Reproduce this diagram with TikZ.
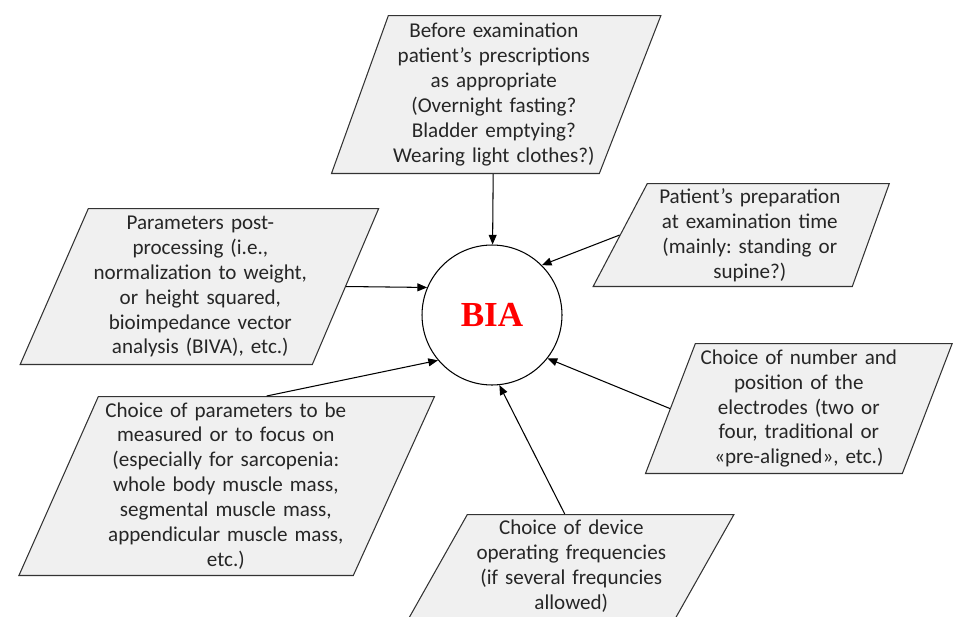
\documentclass[tikz,border=0pt]{standalone}
\usepackage{fontspec}
\setmainfont{Carlito}
\newfontfamily\biafont{Liberation Serif}
\usepackage{tikz}
\usetikzlibrary{positioning,arrows.meta,shapes.geometric,calc}
\definecolor{boxgray}{RGB}{240,240,240}
\definecolor{biared}{RGB}{255,0,0}
\frenchspacing

\begin{document}
\begin{tikzpicture}[
    x=0.02cm, y=-0.02cm,
    >={Triangle[length=5.5pt,width=4.5pt]},
    every node/.style={font=\fontsize{12}{14.2}\selectfont},
    factor/.style={
        trapezium, trapezium stretches=true, draw=black!80, fill=boxgray,
        line width=0.6pt, inner xsep=0pt, inner ysep=0pt, align=center,
        text=black!85, anchor=top left corner
    },
    link/.style={->, line width=0.6pt}
]
\clip (0,0) rectangle (957,616);

\node[circle, draw, line width=0.6pt, minimum size=2.8cm, text=biared,
    font=\biafont\fontsize{20}{24}\selectfont\bfseries] (BIA) at (492,315) {BIA};

\node[factor, text width=4.22cm, minimum height=3.16cm,
    trapezium left angle=68.3, trapezium right angle=113.3] (F1) at (388,15) {
    Before examination\\
    patient’s prescriptions\\
    as appropriate\\
    (Overnight fasting?\\
    Bladder emptying?\\
    Wearing light clothes?)
};

\node[factor, text width=4.10cm, minimum height=2.06cm,
    trapezium left angle=59.8, trapezium right angle=111.7] (F2) at (647,183) {
    Patient’s preparation\\
    at examination time\\
    (mainly: standing or\\
    supine?)
};

\node[factor, text width=4.48cm, minimum height=3.12cm,
    trapezium left angle=64.3, trapezium right angle=115.1] (F3) at (88,208) {
    Parameters post-\\
    processing (i.e.,\\
    normalization to weight,\\
    or height squared,\\
    bioimpedance vector\\
    analysis (BIVA), etc.)
};

\node[factor, text width=4.14cm, minimum height=2.6cm,
    trapezium left angle=67.1, trapezium right angle=112.9] (F4) at (695,343) {
    Choice of number and\\
    position of the\\
    electrodes (two or\\
    four, traditional or\\
    «pre-aligned», etc.)
};

\node[factor, text width=5.10cm, minimum height=3.58cm,
    trapezium left angle=64.6, trapezium right angle=115.9] (F5) at (98,396) {
    Choice of parameters to be\\
    measured or to focus on\\
    (especially for sarcopenia:\\
    whole body muscle mass,\\
    segmental muscle mass,\\
    appendicular muscle mass,\\
    etc.)
};

\node[factor, text width=4.16cm, minimum height=2.08cm,
    trapezium left angle=57.6, trapezium right angle=122.4] (F6) at (467,514) {
    Choice of device\\
    operating frequencies\\
    (if several frequncies\\
    allowed)
};

\draw[link] (F1) -- (BIA);
\draw[link] (F2.left side) -- (BIA.45);
\draw[link] (F3.right side) -- (BIA.157);
\draw[link] (F4.left side) -- (BIA.322);
\draw[link] (F5.top side) -- (BIA.220);
\draw[link] ($(F6.top left corner)!.365!(F6.top right corner)$) -- (BIA.276);

\end{tikzpicture}
\end{document}
